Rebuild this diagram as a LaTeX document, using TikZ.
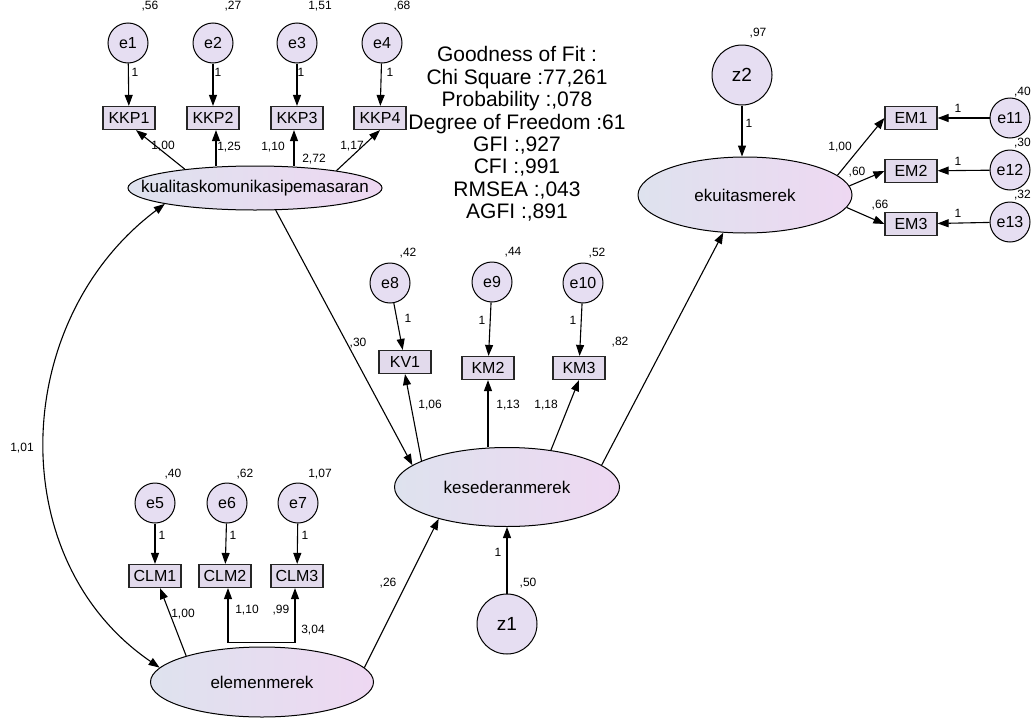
\documentclass[tikz,border=0pt]{standalone}
\usepackage{fontspec}
\setmainfont{Liberation Sans}
\usetikzlibrary{shapes.geometric,arrows.meta}
\definecolor{errfill}{RGB}{230,222,242}
\definecolor{boxfill}{RGB}{226,218,236}
\definecolor{latL}{RGB}{222,226,238}
\definecolor{latR}{RGB}{238,216,242}
\begin{document}
\begin{tikzpicture}[x=1pt,y=-1pt,
  err/.style={circle,draw,line width=1pt,fill=errfill,minimum size=40pt,inner sep=0pt,font=\fontsize{16}{16}\selectfont},
  zerr/.style={err,minimum size=60pt,font=\fontsize{19}{19}\selectfont},
  obs/.style={rectangle,draw=black!85,line width=1.2pt,fill=boxfill,minimum width=52pt,minimum height=23pt,inner sep=0pt,font=\fontsize{16}{16}\selectfont},
  lat/.style={ellipse,draw,line width=1pt,left color=latL,right color=latR,inner sep=0pt},
  lattext/.style={inner sep=0pt,font=\fontsize{17}{17}\selectfont},
  lbl/.style={inner sep=0pt,font=\fontsize{12}{12}\selectfont},
  gof/.style={inner sep=0pt,align=center,font=\fontsize{21}{22.4}\selectfont},
  arr/.style={line width=1.1pt,-{Triangle[length=11pt,width=8pt]}},
  darr/.style={line width=1.1pt,{Triangle[length=11pt,width=8pt]}-{Triangle[length=11pt,width=8pt]}},
]
\useasboundingbox (0,0) rectangle (1032,720);
\fill[white] (0,0) rectangle (1032,720);

% ---- kualitas block
\node[err] (e1) at (128,43) {e1};
\node[err] (e2) at (213,43) {e2};
\node[err] (e3) at (297,43) {e3};
\node[err] (e4) at (382,43) {e4};
\node[obs] (KKP1) at (129,118) {KKP1};
\node[obs] (KKP2) at (213,118) {KKP2};
\node[obs] (KKP3) at (297,118) {KKP3};
\node[obs] (KKP4) at (380,118) {KKP4};
\node[lat,minimum width=254pt,minimum height=44pt,label={[lattext]center:kualitaskomunikasipemasaran}] (kual) at (255,188) {};

% ---- goodness of fit
\node[gof] (fit) at (517,134) {Goodness of Fit :\\Chi Square :77,261\\Probability :,078\\Degree of Freedom :61\\GFI :,927\\CFI :,991\\RMSEA :,043\\AGFI :,891};

% ---- ekuitas block
\node[zerr] (z2) at (742,75) {z2};
\node[lat,minimum width=214pt,minimum height=76pt,label={[lattext]center:ekuitasmerek}] (ekui) at (745,195) {};
\node[obs] (EM1) at (911,118) {EM1};
\node[obs] (EM2) at (911,171) {EM2};
\node[obs] (EM3) at (911,224) {EM3};
\node[err] (e11) at (1010,118) {e11};
\node[err] (e12) at (1010,170) {e12};
\node[err] (e13) at (1010,222) {e13};

% ---- kesederan block
\node[err] (e8) at (390,283) {e8};
\node[err] (e9) at (492,282) {e9};
\node[err] (e10) at (583,283) {e10};
\node[obs] (KV1) at (405,362) {KV1};
\node[obs] (KM2) at (488,368) {KM2};
\node[obs] (KM3) at (579,368) {KM3};
\node[lat,minimum width=225pt,minimum height=79pt,label={[lattext]center:kesederanmerek}] (kese) at (507,487) {};
\node[zerr] (z1) at (507,624) {z1};

% ---- elemen block
\node[err] (e5) at (155,503) {e5};
\node[err] (e6) at (227,503) {e6};
\node[err] (e7) at (298,503) {e7};
\node[obs] (CLM1) at (155,576) {CLM1};
\node[obs] (CLM2) at (225,576) {CLM2};
\node[obs] (CLM3) at (297,576) {CLM3};
\node[lat,minimum width=223pt,minimum height=70pt,label={[lattext]center:elemenmerek}] (elem) at (262,682) {};

% ---- connectors: errors to indicators
\draw[arr] (e1) -- (KKP1);
\draw[arr] (e2) -- (KKP2);
\draw[arr] (e3) -- (KKP3);
\draw[arr] (e4) -- (KKP4);
\draw[arr] (e5) -- (CLM1);
\draw[arr] (e6) -- (CLM2);
\draw[arr] (e7) -- (CLM3);
\draw[arr] (e8) -- (KV1);
\draw[arr] (e9) -- (KM2);
\draw[arr] (e10) -- (KM3);
\draw[arr] (e11) -- (EM1);
\draw[arr] (e12) -- (EM2);
\draw[arr] (e13) -- (EM3);
\draw[arr] (z2) -- (z2 |- ekui.north);
\draw[arr] (z1) -- (kese);

% ---- loadings
\draw[arr] (kual.165) -- ([xshift=7pt]KKP1.south);
\draw[arr] ([xshift=3pt]KKP2.south |- kual.north) -- ([xshift=3pt]KKP2.south);
\draw[arr] ([xshift=-3pt]KKP3.south |- kual.north) -- ([xshift=-3pt]KKP3.south);
\draw[arr] (kual.12) -- (KKP4.south);
\draw[arr] (kese.163) -- (KV1.south);
\draw[arr] (KM2.south |- kese.north) -- (KM2.south);
\draw[arr] (kese.40) -- (KM3.south);
\draw[arr] (ekui.12) -- (EM1.west);
\draw[arr] (ekui.5) -- (EM2.west);
\draw[arr] (ekui.-7) -- (EM3.west);
\draw[arr] (elem.161) -- ([xshift=5pt]CLM1.south);
\draw[darr] ([xshift=3pt]CLM2.south) -- ++(0,54) -| ([xshift=-2pt]CLM3.south);

% ---- structural paths
\draw[arr] (kual.-47) -- (kese.167);
\draw[arr] (elem.8) -- (kese.205);
\draw[arr] (kese.13) -- (ekui.240);
\draw[darr] (kual.190) .. controls (10,320) and (2,560) .. (elem.172);

% ---- labels
\node[lbl] (v1) at (150,6) {,56};
\node[lbl] (v2) at (233,6) {,27};
\node[lbl] (v3) at (320,6) {1,51};
\node[lbl] (v4) at (402,6) {,68};
\node[lbl] (w1) at (135,72) {1};
\node[lbl] (w2) at (218,72) {1};
\node[lbl] (w3) at (301,72) {1};
\node[lbl] (w4) at (390,72) {1};
\node[lbl] (l1) at (163,146) {1,00};
\node[lbl] (l2) at (229,147) {1,25};
\node[lbl] (l3) at (273,147) {1,10};
\node[lbl] (l4) at (314,159) {2,72};
\node[lbl] (l5) at (352,146) {1,17};

\node[lbl] (vz2) at (758,33) {,97};
\node[lbl] (wz2) at (749,123) {1};
\node[lbl] (m1) at (840,147) {1,00};
\node[lbl] (m2) at (857,172) {,60};
\node[lbl] (m3) at (880,205) {,66};
\node[lbl] (w11) at (958,108) {1};
\node[lbl] (w12) at (958,161) {1};
\node[lbl] (w13) at (958,213) {1};
\node[lbl,anchor=east] (v11) at (1031,92) {,40};
\node[lbl,anchor=east] (v12) at (1031,143) {,30};
\node[lbl,anchor=east] (v13) at (1031,195) {,32};

\node[lbl] (v8) at (408,253) {,42};
\node[lbl] (v9) at (513,252) {,44};
\node[lbl] (v10) at (597,253) {,52};
\node[lbl] (w8) at (408,318) {1};
\node[lbl] (w9) at (482,320) {1};
\node[lbl] (w10) at (573,320) {1};
\node[lbl] (k1) at (430,405) {1,06};
\node[lbl] (k2) at (508,405) {1,13};
\node[lbl] (k3) at (546,405) {1,18};
\node[lbl] (p1) at (358,343) {,30};
\node[lbl] (p2) at (620,342) {,82};
\node[lbl] (p3) at (388,583) {,26};
\node[lbl] (wz1) at (498,552) {1};
\node[lbl] (vz1) at (528,583) {,50};
\node[lbl] (cov) at (22,448) {1,01};

\node[lbl] (v5) at (173,474) {,40};
\node[lbl] (v6) at (245,474) {,62};
\node[lbl] (v7) at (320,474) {1,07};
\node[lbl] (w5) at (162,535) {1};
\node[lbl] (w6) at (233,535) {1};
\node[lbl] (w7) at (305,535) {1};
\node[lbl] (c1) at (183,614) {1,00};
\node[lbl] (c2) at (247,610) {1,10};
\node[lbl] (c3) at (281,610) {,99};
\node[lbl] (c4) at (313,630) {3,04};
\end{tikzpicture}
\end{document}
